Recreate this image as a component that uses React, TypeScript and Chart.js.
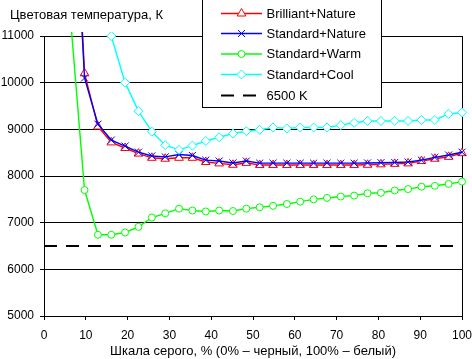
import React, { useEffect, useRef } from 'react';
import { Chart, registerables } from 'chart.js';

Chart.register(...registerables);

const FONT = '"Liberation Sans", Arial, sans-serif';

// Gray levels, % (32 steps)
const grayLevels = [
  0, 3.2, 6.5, 9.7, 12.9, 16.1, 19.4, 22.6, 25.8, 29.0, 32.3, 35.5, 38.7, 41.9, 45.2, 48.4,
  51.6, 54.8, 58.1, 61.3, 64.5, 67.7, 71.0, 74.2, 77.4, 80.6, 83.9, 87.1, 90.3, 93.5, 96.8, 100,
];

const brilliantNature = [
  null, null, 15800, 10200, 9060, 8720, 8600, 8480, 8390, 8370, 8390, 8390, 8300, 8270, 8240, 8280,
  8235, 8235, 8235, 8235, 8235, 8235, 8235, 8235, 8240, 8250, 8260, 8270, 8320, 8370, 8410, 8490,
];
const standardNature = [
  null, null, 15500, 10100, 9110, 8770, 8640, 8510, 8430, 8410, 8460, 8440, 8340, 8320, 8280, 8320,
  8275, 8275, 8275, 8275, 8275, 8275, 8275, 8275, 8280, 8285, 8290, 8300, 8340, 8400, 8450, 8510,
];
const standardWarm = [
  null, null, 11200, 7700, 6740, 6740, 6790, 6910, 7110, 7200, 7300, 7260, 7240, 7260, 7250, 7300,
  7330, 7360, 7400, 7450, 7500, 7530, 7560, 7580, 7630, 7640, 7690, 7720, 7770, 7790, 7830, 7880,
];
const standardCool = [
  null, null, null, null, 12500, 11000, 10000, 9390, 8950, 8660, 8560, 8650, 8750, 8830, 8910, 8960,
  8990, 9040, 9020, 9040, 9040, 9040, 9090, 9140, 9180, 9180, 9180, 9180, 9200, 9200, 9330, 9360,
];
const referenceLevel = [6500, 6500];
const referenceX = [0, 100];

const seriesNames = ['Brilliant+Nature', 'Standard+Nature', 'Standard+Warm', 'Standard+Cool', '6500 K'];
const seriesColors = ['#FF0000', '#0000FF', '#00FF00', '#00FFFF', '#000000'];
const seriesMarkers = ['triangle', 'crossRot', 'circle', 'rectRot', 'none'];

const yTicks = [5000, 6000, 7000, 8000, 9000, 10000, 11000];
const xTicks = [0, 10, 20, 30, 40, 50, 60, 70, 80, 90, 100];

const chartTitle = 'Цветовая температура, К';
const xTitle = 'Шкала серого, % (0% – черный, 100% – белый)';

const markerRadius: Record<string, number> = { triangle: 5, crossRot: 5, circle: 3.5, rectRot: 4.5 };

function toPoints(xs: number[], ys: (number | null)[]) {
  return xs.map((x, i) => ({ x, y: ys[i] }));
}

function drawMarker(ctx: CanvasRenderingContext2D, shape: string, x: number, y: number, r: number, color: string) {
  ctx.save();
  ctx.strokeStyle = color;
  ctx.fillStyle = '#FFFFFF';
  ctx.lineWidth = 1;
  ctx.beginPath();
  if (shape === 'triangle') {
    ctx.moveTo(x, y - r);
    ctx.lineTo(x + 0.866 * r, y + 0.5 * r);
    ctx.lineTo(x - 0.866 * r, y + 0.5 * r);
    ctx.closePath();
    ctx.fill();
    ctx.stroke();
  } else if (shape === 'crossRot') {
    const d = 0.7071 * r;
    ctx.moveTo(x - d, y - d);
    ctx.lineTo(x + d, y + d);
    ctx.moveTo(x + d, y - d);
    ctx.lineTo(x - d, y + d);
    ctx.stroke();
  } else if (shape === 'circle') {
    ctx.arc(x, y, r, 0, Math.PI * 2);
    ctx.fill();
    ctx.stroke();
  } else if (shape === 'rectRot') {
    ctx.moveTo(x, y - r);
    ctx.lineTo(x + r, y);
    ctx.lineTo(x, y + r);
    ctx.lineTo(x - r, y);
    ctx.closePath();
    ctx.fill();
    ctx.stroke();
  }
  ctx.restore();
}

const decorPlugin = {
  id: 'decor',
  beforeDatasetsDraw(chart: any) {
    const { ctx, chartArea: a } = chart;
    ctx.save();
    ctx.strokeStyle = '#000000';
    ctx.lineWidth = 1;
    ctx.beginPath();
    const rx = Math.round(a.right) + 0.5;
    ctx.moveTo(rx, Math.round(a.top));
    ctx.lineTo(rx, Math.round(a.bottom) + 1);
    ctx.stroke();
    ctx.restore();
  },
  afterDraw(chart: any) {
    const { ctx } = chart;
    ctx.save();
    // title
    ctx.fillStyle = '#000000';
    ctx.font = `13px ${FONT}`;
    ctx.textBaseline = 'middle';
    ctx.textAlign = 'left';
    ctx.fillText(chartTitle, 10, 15);

    // legend box
    const bx = 202, by = -2, bw = 179, bh = 109;
    ctx.fillStyle = '#FFFFFF';
    ctx.fillRect(bx, by, bw, bh);
    ctx.strokeStyle = '#000000';
    ctx.lineWidth = 1;
    ctx.strokeRect(bx + 0.5, by + 0.5, bw, bh);

    const rowsY = [13.5, 33.5, 54, 74.5, 95.5];
    const datasets = chart.data.datasets;
    seriesNames.forEach((name, i) => {
      const ds = datasets.find((d: any) => d.label === name);
      const y = rowsY[i];
      ctx.save();
      ctx.strokeStyle = seriesColors[i];
      ctx.lineWidth = ds && ds.borderWidth ? ds.borderWidth : 1;
      if (ds && ds.borderDash) ctx.setLineDash(ds.borderDash);
      ctx.beginPath();
      ctx.moveTo(221, y);
      ctx.lineTo(262, y);
      ctx.stroke();
      ctx.restore();
      const shape = seriesMarkers[i];
      if (shape !== 'none') drawMarker(ctx, shape, 241.5, y, markerRadius[shape], seriesColors[i]);
      ctx.fillStyle = '#000000';
      ctx.font = `13px ${FONT}`;
      ctx.textBaseline = 'alphabetic';
      ctx.fillText(name, 266.5, y + 4);
    });
    ctx.restore();
  },
};

export default function App() {
  const canvasRef = useRef<HTMLCanvasElement | null>(null);

  useEffect(() => {
    const canvas = canvasRef.current;
    if (!canvas) return;

    const lineSeries = [brilliantNature, standardNature, standardWarm, standardCool];
    const datasets: any[] = lineSeries.map((values, i) => ({
      label: seriesNames[i],
      data: toPoints(grayLevels, values),
      borderColor: seriesColors[i],
      backgroundColor: seriesColors[i],
      borderWidth: 1.4,
      pointStyle: seriesMarkers[i],
      pointRadius: markerRadius[seriesMarkers[i]],
      pointBorderColor: seriesColors[i],
      pointBackgroundColor: '#FFFFFF',
      pointBorderWidth: 1,
      tension: 0,
      order: 5 - i,
      clip: { left: 0, top: 4, right: 8, bottom: 0 },
    }));
    datasets.push({
      label: seriesNames[4],
      data: toPoints(referenceX, referenceLevel),
      borderColor: '#000000',
      borderWidth: 2,
      borderDash: [13, 9],
      pointRadius: 0,
      order: 0,
      clip: 0,
    });

    const chart = new Chart(canvas, {
      type: 'line',
      data: { datasets },
      plugins: [decorPlugin],
      options: {
        responsive: false,
        animation: false,
        devicePixelRatio: 1,
        layout: { padding: { top: 36, right: 10, left: 0, bottom: 0 } },
        plugins: {
          legend: { display: false },
          title: { display: false },
          tooltip: { enabled: false },
        },
        scales: {
          x: {
            type: 'linear',
            min: 0,
            max: 100,
            afterBuildTicks: (scale: any) => {
              scale.ticks = xTicks.map((v) => ({ value: v }));
            },
            afterFit: (scale: any) => {
              scale.height = 43;
              scale.paddingLeft = 0;
              scale.paddingRight = 0;
            },
            ticks: {
              color: '#000000',
              font: { family: FONT, size: 12 },
              padding: 8,
              maxRotation: 0,
              autoSkip: false,
              callback: (v: any) => String(v),
            },
            grid: {
              drawOnChartArea: false,
              drawTicks: true,
              tickLength: 4,
              color: '#000000',
              lineWidth: 1,
            },
            border: { display: true, color: '#000000', width: 1 },
            title: {
              display: true,
              text: xTitle,
              color: '#000000',
              font: { family: FONT, size: 13 },
              padding: { top: 0, bottom: 0 },
            },
          },
          y: {
            type: 'linear',
            min: 5000,
            max: 11000,
            afterBuildTicks: (scale: any) => {
              scale.ticks = yTicks.map((v) => ({ value: v }));
            },
            afterFit: (scale: any) => {
              scale.width = 44;
              scale.paddingTop = 0;
              scale.paddingBottom = 0;
            },
            ticks: {
              color: '#000000',
              font: { family: FONT, size: 12 },
              padding: 6,
              autoSkip: false,
              callback: (v: any) => String(v),
            },
            grid: {
              drawTicks: true,
              tickLength: 4,
              color: '#000000',
              lineWidth: 1,
            },
            border: { display: true, color: '#000000', width: 1 },
          },
        },
      },
    });

    return () => chart.destroy();
  }, []);

  return (
    <div style={{ position: 'absolute', left: 0, top: 0, width: 472, height: 359, background: '#FFFFFF' }}>
      <canvas ref={canvasRef} width={472} height={359} style={{ display: 'block', width: 472, height: 359 }} />
    </div>
  );
}
